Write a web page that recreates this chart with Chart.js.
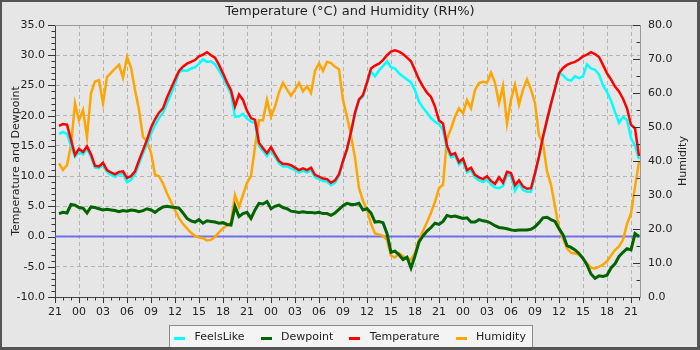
<!DOCTYPE html>
<html>
<head>
<meta charset="utf-8">
<script src="https://cdn.jsdelivr.net/npm/chart.js@4.4.1/dist/chart.umd.min.js"></script>
<style>
  html, body { margin: 0; padding: 0; background: #e6e6e6; }
  #wrap { width: 700px; height: 350px; }
</style>
</head>
<body>
<div id="wrap"><canvas id="weatherChart" width="700" height="350"></canvas></div>
<script>
// hours since 21:00 on the first day, one reading every half hour
const hours = [
  0.5, 1, 1.5, 2, 2.5, 3, 3.5, 4, 4.5, 5,
  5.5, 6, 6.5, 7, 7.5, 8, 8.5, 9, 9.5, 10,
  10.5, 11, 11.5, 12, 12.5, 13, 13.5, 14, 14.5, 15,
  15.5, 16, 16.5, 17, 17.5, 18, 18.5, 19, 19.5, 20,
  20.5, 21, 21.5, 22, 22.5, 23, 23.5, 24, 24.5, 25,
  25.5, 26, 26.5, 27, 27.5, 28, 28.5, 29, 29.5, 30,
  30.5, 31, 31.5, 32, 32.5, 33, 33.5, 34, 34.5, 35,
  35.5, 36, 36.5, 37, 37.5, 38, 38.5, 39, 39.5, 40,
  40.5, 41, 41.5, 42, 42.5, 43, 43.5, 44, 44.5, 45,
  45.5, 46, 46.5, 47, 47.5, 48, 48.5, 49, 49.5, 50,
  50.5, 51, 51.5, 52, 52.5, 53, 53.5, 54, 54.5, 55,
  55.5, 56, 56.5, 57, 57.5, 58, 58.5, 59, 59.5, 60,
  60.5, 61, 61.5, 62, 62.5, 63, 63.5, 64, 64.5, 65,
  65.5, 66, 66.5, 67, 67.5, 68, 68.5, 69, 69.5, 70,
  70.5, 71, 71.5, 72, 72.5, 73
];

const xTickValues = [0, 3, 6, 9, 12, 15, 18, 21, 24, 27, 30, 33, 36, 39, 42, 45, 48, 51, 54, 57, 60, 63, 66, 69, 72];
const xTickLabels = ['21', '00', '03', '06', '09', '12', '15', '18', '21', '00', '03', '06', '09', '12', '15', '18', '21', '00', '03', '06', '09', '12', '15', '18', '21'];
const tempTicks = [-10, -5, 0, 5, 10, 15, 20, 25, 30, 35];
const humTicks = [0, 10, 20, 30, 40, 50, 60, 70, 80];

const feelsLike = [
  17.0, 17.3, 17.0, 15.0, 13.2, 14.0, 13.6, 14.5, 13.2, 11.4,
  11.3, 11.9, 10.7, 10.2, 9.9, 10.3, 10.4, 9.0, 9.4, 10.3,
  12.0, 13.8, 15.3, 17.0, 18.4, 19.6, 20.5, 22.0, 23.6, 25.2,
  27.2, 27.5, 27.4, 27.8, 28.0, 28.6, 29.3, 28.9, 29.0, 28.5,
  27.5, 26.3, 25.0, 23.6, 19.8, 19.9, 20.3, 19.5, 19.0, 18.8,
  15.0, 14.2, 13.3, 14.3, 13.2, 12.1, 11.6, 11.6, 11.3, 11.0,
  10.6, 10.9, 10.6, 11.0, 9.8, 9.5, 9.2, 9.1, 8.5, 8.9,
  10.0, 12.3, 14.3, 17.1, 20.2, 22.5, 23.2, 25.3, 27.3, 26.5,
  27.5, 28.2, 29.0, 28.0, 27.8, 27.0, 26.5, 26.0, 25.5, 24.2,
  22.3, 21.3, 20.5, 19.6, 19.0, 18.6, 17.6, 14.6, 13.1, 13.4,
  11.9, 12.5, 10.6, 11.0, 9.8, 9.3, 9.0, 9.5, 8.6, 8.1,
  8.0, 8.4, 10.2, 10.0, 7.6, 8.8, 7.7, 7.4, 7.4, 10.2,
  13.1, 16.3, 19.1, 21.8, 24.4, 27.0, 26.7, 26.0, 25.8, 26.5,
  26.2, 26.5, 28.5, 27.8, 27.6, 26.8, 25.0, 23.9, 22.5, 20.6,
  18.8, 19.8, 19.3, 16.3, 15.0, 12.8
];

const dewpoint = [
  3.8, 4.0, 3.9, 5.3, 5.2, 4.8, 4.7, 3.9, 4.9, 4.8,
  4.6, 4.4, 4.5, 4.4, 4.3, 4.1, 4.3, 4.2, 4.4, 4.3,
  4.1, 4.3, 4.6, 4.4, 4.0, 4.5, 4.9, 5.0, 4.9, 4.8,
  4.7, 3.9, 3.0, 2.6, 2.4, 2.8, 2.2, 2.6, 2.5, 2.4,
  2.2, 2.3, 2.0, 1.9, 5.0, 3.3, 3.8, 4.0, 3.0, 4.4,
  5.5, 5.4, 5.8, 4.6, 5.0, 5.2, 4.8, 4.6, 4.2, 4.1,
  4.0, 4.1, 4.0, 4.0, 3.9, 4.0, 3.8, 3.8, 3.5, 3.9,
  4.5, 5.1, 5.5, 5.3, 5.3, 5.5, 4.4, 4.6, 3.9, 2.4,
  2.5, 2.3, 0.5, -2.6, -2.4, -3.0, -3.8, -3.4, -5.2, -3.2,
  -0.9, 0.1, 0.9, 1.5, 2.2, 2.0, 2.5, 3.5, 3.3, 3.4,
  3.2, 3.0, 3.1, 2.4, 2.4, 2.8, 2.6, 2.5, 2.2, 1.8,
  1.5, 1.4, 1.3, 1.1, 1.0, 1.1, 1.1, 1.1, 1.2, 1.6,
  2.3, 3.1, 3.2, 2.8, 2.5, 1.3, 0.3, -1.5, -1.8, -2.2,
  -2.8, -3.6, -4.7, -6.2, -6.9, -6.5, -6.6, -6.4, -5.2, -4.5,
  -3.3, -2.6, -2.0, -2.2, 0.5, 0.0
];

const temperature = [
  18.3, 18.6, 18.5, 16.0, 13.5, 14.5, 14.0, 14.9, 13.6, 11.7,
  11.6, 12.2, 11.0, 10.6, 10.3, 10.7, 10.8, 9.7, 10.0, 10.8,
  12.6, 14.3, 16.0, 18.0, 19.4, 20.5, 21.2, 23.0, 24.5, 26.0,
  27.4, 28.1, 28.6, 28.9, 29.2, 29.8, 30.1, 30.5, 30.0, 29.6,
  28.4, 27.0, 25.5, 24.2, 21.5, 23.5, 22.6, 20.8, 19.6, 19.3,
  15.5, 14.6, 13.8, 14.8, 13.6, 12.5, 12.0, 12.0, 11.8, 11.4,
  11.0, 11.3, 11.0, 11.4, 10.2, 9.9, 9.6, 9.5, 8.9, 9.3,
  10.3, 12.5, 14.5, 17.3, 20.5, 22.7, 23.4, 25.5, 27.8, 28.3,
  28.6, 29.2, 30.0, 30.6, 30.8, 30.6, 30.2, 29.6, 29.0, 27.5,
  26.0, 24.8, 23.8, 23.1, 21.5, 19.2, 18.7, 15.0, 13.5, 13.8,
  12.3, 12.9, 11.0, 11.4, 10.2, 9.8, 9.5, 10.0, 9.2, 8.7,
  9.8, 8.9, 10.7, 10.5, 8.5, 9.3, 8.3, 7.9, 8.0, 10.5,
  13.3, 16.5, 19.3, 22.0, 24.5, 27.0, 27.9, 28.4, 28.7, 28.9,
  29.3, 29.8, 30.1, 30.5, 30.2, 29.7, 28.4, 27.0, 26.0, 24.8,
  24.0, 22.8, 21.2, 18.5, 17.9, 13.3
];

const humidity = [
  39.3, 37.4, 38.8, 44.7, 57.0, 52.0, 55.0, 47.0, 60.0, 63.4,
  63.8, 57.0, 64.7, 65.9, 67.2, 68.3, 64.5, 70.6, 67.5, 60.9,
  55.0, 47.1, 45.8, 42.5, 36.0, 35.5, 33.4, 30.5, 28.0, 25.5,
  23.2, 21.5, 20.2, 18.9, 18.0, 17.5, 17.3, 16.6, 16.8, 17.7,
  19.0, 20.2, 21.0, 22.0, 30.0, 26.5, 30.0, 33.6, 35.6, 44.2,
  52.0, 52.0, 58.0, 53.0, 56.0, 60.2, 63.0, 61.0, 59.2, 61.0,
  63.0, 60.5, 62.0, 60.0, 66.5, 68.7, 66.5, 69.2, 68.8, 67.7,
  67.0, 57.9, 53.0, 47.5, 41.0, 32.0, 28.3, 25.6, 21.5, 18.7,
  18.4, 18.0, 16.8, 12.2, 11.6, 12.9, 12.0, 11.3, 11.0, 12.9,
  16.8, 19.5, 22.0, 24.8, 28.0, 32.0, 33.0, 46.5, 49.5, 53.0,
  55.5, 54.0, 57.9, 55.5, 60.9, 62.9, 63.3, 63.0, 66.0, 63.0,
  57.0, 62.0, 51.0, 58.0, 62.5, 56.5, 61.0, 64.0, 61.0, 57.0,
  47.5, 45.2, 37.0, 33.0, 26.6, 20.2, 17.2, 14.3, 13.0, 12.8,
  12.5, 11.3, 9.9, 8.6, 8.4, 8.9, 9.5, 10.5, 12.2, 13.8,
  14.9, 16.8, 21.5, 24.6, 32.4, 39.8
];

Chart.defaults.font.family = "'DejaVu Sans', sans-serif";
Chart.defaults.font.size = 11;
Chart.defaults.color = '#222';

const pts = arr => arr.map((v, i) => ({ x: hours[i], y: v }));

const decorPlugin = {
    id: 'decor',
    beforeDraw(chart) {
        const ctx = chart.ctx;
        ctx.save();
        ctx.fillStyle = '#e6e6e6';
        ctx.fillRect(0, 0, chart.width, chart.height);

        // legend frame, sized from the legend items
        const lg = chart.legend;
        if (lg && lg.legendHitBoxes.length) {
            const boxes = lg.legendHitBoxes;
            const first = boxes[0], last = boxes[boxes.length - 1];
            const x0 = Math.round(first.left - 5);
            const x1 = Math.round(last.left + last.width + 6);
            const y0 = Math.round(first.top + first.height / 2 - 12);
            ctx.fillStyle = '#f4f4f4';
            ctx.fillRect(x0, y0, x1 - x0, 40);
            ctx.strokeStyle = '#8a8a8a';
            ctx.lineWidth = 1;
            ctx.strokeRect(x0 + 0.5, y0 + 0.5, x1 - x0, 40);
        }
        ctx.restore();
    },
    beforeDatasetsDraw(chart) {
        // zero line on the temperature axis
        const { ctx, chartArea: a, scales: { y } } = chart;
        const py = y.getPixelForValue(0);
        ctx.save();
        ctx.strokeStyle = 'rgba(100, 100, 235, 0.9)';
        ctx.lineWidth = 2;
        ctx.beginPath();
        ctx.moveTo(a.left, py);
        ctx.lineTo(a.right, py);
        ctx.stroke();
        ctx.restore();
    },
    afterDraw(chart) {
        const { ctx, chartArea: a, scales: { x, y, y1 } } = chart;
        ctx.save();

        // top edge of the plot
        ctx.fillStyle = '#9a9a9a';
        ctx.fillRect(Math.round(a.left), Math.round(a.top), Math.round(a.right - a.left), 1);

        // tick marks, major and minor
        ctx.fillStyle = '#333';
        for (let h = 0; h <= 73; h++) {
            const px = Math.round(x.getPixelForValue(h));
            ctx.fillRect(px, Math.round(a.bottom), 1, h % 3 === 0 ? 6 : 3.5);
        }
        for (let v = -10; v <= 35; v++) {
            const py = Math.round(y.getPixelForValue(v));
            const len = v % 5 === 0 ? 7 : 3.5;
            ctx.fillRect(Math.round(a.left) - len, py, len, 1);
        }
        for (let v = 0; v <= 80; v += 5) {
            const py = Math.round(y1.getPixelForValue(v));
            const len = v % 10 === 0 ? 7 : 3.5;
            ctx.fillRect(Math.round(a.right) - len, py, len, 1);
        }

        // legend markers
        const lg = chart.legend;
        lg.legendHitBoxes.forEach((hb, i) => {
            const item = lg.legendItems[i];
            ctx.fillStyle = chart.data.datasets[item.datasetIndex].borderColor;
            ctx.fillRect(Math.round(hb.left), Math.round(hb.top + hb.height / 2), 11, 3);
        });

        // right axis title
        ctx.fillStyle = '#222';
        ctx.font = "11px 'DejaVu Sans'";
        ctx.textAlign = 'center';
        ctx.textBaseline = 'middle';
        ctx.translate(683, (a.top + a.bottom) / 2);
        ctx.rotate(-Math.PI / 2);
        ctx.fillText('Humidity', 0, 0);
        ctx.setTransform(1, 0, 0, 1, 0, 0);

        // outer frame
        ctx.fillStyle = '#555';
        ctx.fillRect(0, 0, chart.width, 2);
        ctx.fillRect(0, 0, 2, chart.height);
        ctx.fillRect(0, chart.height - 3, chart.width, 3);
        ctx.fillRect(chart.width - 3, 0, 3, chart.height);
        ctx.restore();
    }
};

const ctx = document.getElementById('weatherChart').getContext('2d');
new Chart(ctx, {
    type: 'line',
    data: {
        datasets: [
            { label: 'FeelsLike', data: pts(feelsLike), borderColor: '#00ffff', borderWidth: 2.5, yAxisID: 'y', order: 2 },
            { label: 'Dewpoint', data: pts(dewpoint), borderColor: '#006400', borderWidth: 3, yAxisID: 'y', order: 1 },
            { label: 'Temperature', data: pts(temperature), borderColor: '#ff0000', borderWidth: 2.5, yAxisID: 'y', order: 0 },
            { label: 'Humidity', data: pts(humidity), borderColor: '#ffa500', borderWidth: 2.5, yAxisID: 'y1', order: 3 }
        ]
    },
    options: {
        responsive: false,
        animation: false,
        devicePixelRatio: 1,
        layout: { padding: { left: 2, right: 2, top: 2, bottom: -2.5 } },
        elements: { point: { radius: 0 }, line: { tension: 0, fill: false } },
        scales: {
            x: {
                type: 'linear',
                min: 0,
                max: 73.125,
                afterBuildTicks: s => { s.ticks = xTickValues.map(v => ({ value: v })); },
                afterFit: s => { s.height = 18.5; },
                ticks: { autoSkip: false, maxRotation: 0, padding: 2, callback: (v, i) => xTickLabels[i] },
                grid: { color: '#b4b4b4', tickLength: 7, tickColor: 'rgba(0,0,0,0)' },
                border: { color: '#444', dash: [4, 3] }
            },
            y: {
                position: 'left',
                min: -10,
                max: 35,
                afterBuildTicks: s => { s.ticks = tempTicks.map(v => ({ value: v })); },
                afterFit: s => { s.width = 53; },
                ticks: { padding: 3, callback: v => v.toFixed(1) },
                grid: { color: '#b4b4b4', tickLength: 7, tickColor: 'rgba(0,0,0,0)' },
                border: { color: '#444', dash: [4, 3] },
                title: { display: true, text: 'Temperature and Dewpoint', padding: { top: 8, bottom: 0 } }
            },
            y1: {
                position: 'right',
                min: 0,
                max: 80,
                afterBuildTicks: s => { s.ticks = humTicks.map(v => ({ value: v })); },
                afterFit: s => { s.width = 58; },
                ticks: { padding: 8, callback: v => v.toFixed(1) },
                grid: { display: false, drawTicks: false },
                border: { color: '#9a9a9a' }
            }
        },
        plugins: {
            title: {
                display: true,
                text: 'Temperature (°C) and Humidity (RH%)',
                font: { size: 13, weight: 'normal' },
                padding: { top: 1.5, bottom: 5.9 }
            },
            legend: {
                position: 'bottom',
                labels: {
                    boxWidth: 15,
                    boxHeight: 3,
                    padding: 16,
                    sort: (a, b) => a.datasetIndex - b.datasetIndex,
                    generateLabels(chart) {
                        const items = Chart.defaults.plugins.legend.labels.generateLabels(chart);
                        items.forEach(it => {
                            it.fillStyle = 'rgba(0,0,0,0)';
                            it.strokeStyle = 'rgba(0,0,0,0)';
                            it.lineWidth = 0;
                        });
                        return items;
                    }
                }
            },
            tooltip: { enabled: false }
        }
    },
    plugins: [decorPlugin]
});
</script>
</body>
</html>
